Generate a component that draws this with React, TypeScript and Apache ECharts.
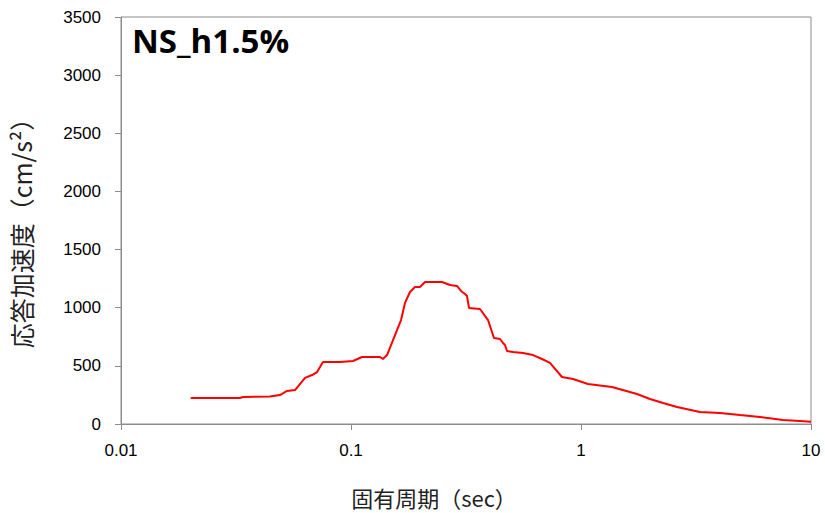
import React, { useEffect, useRef } from "react";
import * as echarts from "echarts";

const periods = [
  0.0201, 0.0329, 0.0339, 0.0444, 0.0491, 0.0527, 0.0571, 0.0631, 0.0677, 0.0712,
  0.0755, 0.0896, 0.102, 0.1116, 0.1337, 0.1377, 0.1434, 0.1523, 0.165, 0.1717,
  0.1805, 0.1897, 0.1995, 0.2098, 0.2487, 0.2695, 0.2889, 0.3008, 0.3131, 0.3194,
  0.3259, 0.3638, 0.3942, 0.4184, 0.4444, 0.458, 0.4673, 0.4768, 0.5062, 0.5597,
  0.6187, 0.6767, 0.7329, 0.8268, 0.923, 1.072, 1.364, 1.752, 1.995, 2.273,
  2.615, 3.291, 4.021, 4.913, 6.0, 7.555, 8.96, 10,
];
const accel = [
  224, 224, 232, 236, 249, 284, 292, 396, 421, 447,
  533, 533, 542, 576, 576, 559, 593, 722, 894, 1041,
  1135, 1178, 1178, 1221, 1221, 1195, 1187, 1144, 1118, 1101,
  998, 989, 894, 740, 731, 697, 679, 628, 619, 611,
  593, 559, 525, 404, 387, 344, 318, 258, 215, 181,
  146, 103, 95, 77, 60, 34, 26, 20,
];
const xTickLabels = ["0.01", "0.1", "1", "10"];
const title = "NS_h1.5%";
const xName = "固有周期（sec）";
const yName = "応答加速度（cm/s²）";

export default function App() {
  const ref = useRef<HTMLDivElement>(null);
  useEffect(() => {
    if (!ref.current) return;
    const chart = echarts.init(ref.current, null, { renderer: "svg" });
    const font = "'Liberation Sans', 'Open Sans', sans-serif";
    const cjk = "'Noto Sans CJK JP', sans-serif";
    chart.setOption({
      animation: false,
      backgroundColor: "#ffffff",
      grid: {
        left: 121,
        right: 14,
        top: 17,
        bottom: 89,
        show: true,
        borderColor: "#8c8c8c",
        borderWidth: 1,
      },
      graphic: [
        {
          type: "text",
          left: 132,
          top: 24,
          style: {
            text: title,
            fontSize: 33,
            fontWeight: "bold",
            fontFamily: "'Open Sans', 'Liberation Sans', sans-serif",
            fill: "#000",
          },
        },
        {
          type: "text",
          x: 434,
          y: 497,
          style: {
            text: xName,
            fontSize: 22,
            fontFamily: cjk,
            fill: "#222",
            align: "center",
            verticalAlign: "middle",
          },
        },
        {
          type: "text",
          x: 21,
          y: 227,
          rotation: Math.PI / 2,
          style: {
            text: yName,
            fontSize: 25,
            fontFamily: cjk,
            fill: "#222",
            align: "center",
            verticalAlign: "middle",
          },
        },
      ],
      xAxis: {
        type: "log",
        logBase: 10,
        min: 0.01,
        max: 10,
        axisLine: { show: true, lineStyle: { color: "#8c8c8c", width: 1 } },
        axisTick: { show: true, length: 6, lineStyle: { color: "#8c8c8c" } },
        minorTick: { show: false },
        splitLine: { show: false },
        axisLabel: {
          margin: 18,
          fontSize: 17,
          fontFamily: font,
          color: "#000",
          formatter: (v: number) => {
            const i = Math.round(Math.log10(v)) + 2;
            return xTickLabels[i] ?? String(v);
          },
        },
      },
      yAxis: {
        type: "value",
        min: 0,
        max: 3500,
        interval: 500,
        axisLine: { show: true, lineStyle: { color: "#8c8c8c", width: 1 } },
        axisTick: { show: true, length: 6, lineStyle: { color: "#8c8c8c" } },
        splitLine: { show: false },
        axisLabel: {
          margin: 20,
          fontSize: 17,
          fontFamily: font,
          color: "#000",
          formatter: (v: number) => String(v),
        },
      },
      series: [
        {
          type: "line",
          data: periods.map((p, i) => [p, accel[i]]),
          showSymbol: false,
          symbol: "none",
          lineStyle: { color: "#ff0000", width: 2 },
          itemStyle: { color: "#ff0000" },
        },
      ],
    });
    return () => chart.dispose();
  }, []);
  return <div ref={ref} style={{ width: 825, height: 513, position: "absolute", left: 0, top: 0 }} />;
}
